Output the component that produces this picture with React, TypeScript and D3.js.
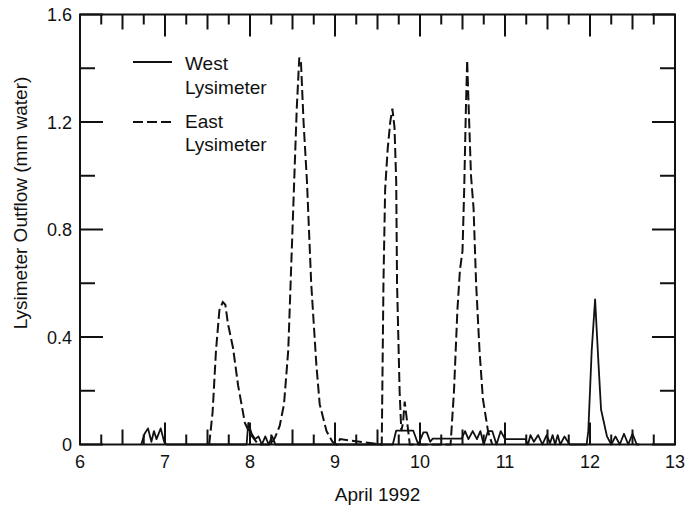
import React from "react";
import * as d3 from "d3";

const xTicks = [6, 7, 8, 9, 10, 11, 12, 13];
const yTicks = [0, 0.4, 0.8, 1.2, 1.6];
const yTickLabels = ["0", "0.4", "0.8", "1.2", "1.6"];

// East Lysimeter (dashed)
const eastDay = [
  7.52, 7.56, 7.6, 7.64, 7.68, 7.71, 7.74, 7.8, 7.86, 7.94, 8.0, 8.05, 8.1,
  8.25, 8.3, 8.35, 8.4, 8.45, 8.5, 8.55, 8.58, 8.6, 8.63, 8.67, 8.72, 8.78, 8.82, 8.9, 8.97, 9.02, 9.06,
  9.55, 9.57, 9.59, 9.62, 9.65, 9.675, 9.7, 9.72, 9.73, 9.76, 9.78, 9.8, 9.82, 9.85, 9.88,
  10.36, 10.4, 10.44, 10.47, 10.5, 10.52, 10.54, 10.555, 10.57, 10.6, 10.63, 10.66, 10.7, 10.74, 10.8, 10.85,
];
const eastVal = [
  0.0, 0.12, 0.35, 0.5, 0.53, 0.52, 0.45, 0.36, 0.22, 0.08, 0.04, 0.02, 0.0,
  0.0, 0.03, 0.07, 0.15, 0.35, 0.8, 1.25, 1.44, 1.42, 1.2, 0.98, 0.6, 0.3, 0.15, 0.05, 0.01, 0.0, 0.02,
  0.0, 0.6, 0.95, 1.1, 1.2, 1.25, 1.18, 0.98, 0.6, 0.2, 0.05, 0.08, 0.16, 0.08, 0.0,
  0.0, 0.2, 0.5, 0.65, 0.72, 0.95, 1.25, 1.43, 1.28, 1.0, 0.88, 0.6, 0.35, 0.17, 0.05, 0.0,
];

// West Lysimeter (solid)
const westDay = [
  6.72, 6.76, 6.8, 6.84, 6.87, 6.9, 6.95, 6.99, 7.02,
  7.96, 7.98, 8.02, 8.06, 8.1, 8.14, 8.18, 8.22, 8.26, 8.3,
  9.68, 9.72, 9.92, 9.98, 10.04, 10.08, 10.12, 10.15, 10.49, 10.53, 10.57, 10.62, 10.67, 10.71, 10.75, 10.8, 10.85, 10.9, 10.95, 11.0,
  11.24, 11.27, 11.3, 11.34, 11.39, 11.44, 11.49, 11.53, 11.56, 11.59, 11.62, 11.65, 11.7, 11.76, 11.82,
  11.96, 11.98, 12.02, 12.06, 12.1, 12.13, 12.2, 12.25, 12.3, 12.35, 12.4, 12.45, 12.5, 12.55, 12.58,
];
const westVal = [
  0.0, 0.04, 0.06, 0.01, 0.05, 0.02, 0.06, 0.01, 0.0,
  0.0, 0.08, 0.04, 0.02, 0.03, 0.0, 0.03, 0.0, 0.03, 0.0,
  0.0, 0.052, 0.052, 0.0, 0.045, 0.045, 0.01, 0.022, 0.022, 0.05, 0.02, 0.05, 0.02, 0.05, 0.0, 0.05, 0.05, 0.0, 0.05, 0.02,
  0.02, 0.0, 0.035, 0.01, 0.035, 0.0, 0.035, 0.005, 0.035, 0.0, 0.035, 0.0, 0.03, 0.0, 0.0,
  0.0, 0.05, 0.35, 0.54, 0.3, 0.13, 0.03, 0.0, 0.03, 0.0, 0.04, 0.0, 0.04, 0.0, 0.0,
];

const W = 694;
const H = 512;
const left = 80, right = 675, top = 14.5, bottom = 444.5;

export default function App() {
  const x = d3.scaleLinear().domain([6, 13]).range([left, right]);
  const y = d3.scaleLinear().domain([0, 1.6]).range([bottom, top]);
  const line = d3
    .line<[number, number]>()
    .x((d) => x(d[0]))
    .y((d) => y(d[1]));
  const east: [number, number][] = eastDay.map((d, i) => [d, eastVal[i]]);
  const west: [number, number][] = westDay.map((d, i) => [d, westVal[i]]);

  const xMinor = d3.range(6, 13.001, 0.25);
  const yMinor = d3.range(0, 1.601, 0.2);
  const font = "'Liberation Sans', Arial, Helvetica, sans-serif";

  return (
    <svg
      width={W}
      height={H}
      style={{ position: "absolute", left: 0, top: 0, background: "#fff" }}
      fontFamily={font}
    >
      <rect x={0} y={0} width={W} height={H} fill="#fff" />
      {/* x ticks */}
      {xMinor.map((v, i) => {
        const r = Math.round(v * 4) % 4;
        const len = r === 0 ? 22 : r === 2 ? 15 : 10;
        return (
          <g key={"xt" + i} stroke="#111" strokeWidth={2}>
            <line x1={x(v)} x2={x(v)} y1={bottom} y2={bottom - len} />
            <line x1={x(v)} x2={x(v)} y1={top} y2={top + len} />
          </g>
        );
      })}
      {yMinor.map((v, i) => {
        const major = Math.round(v * 10) % 4 === 0;
        const len = major ? 23 : 15;
        return (
          <g key={"yt" + i} stroke="#111" strokeWidth={2}>
            <line x1={left} x2={left + len} y1={y(v)} y2={y(v)} />
            <line x1={right} x2={right - len} y1={y(v)} y2={y(v)} />
          </g>
        );
      })}
      <rect
        x={left}
        y={top}
        width={right - left}
        height={bottom - top}
        fill="none"
        stroke="#111"
        strokeWidth={2}
      />
      {xTicks.map((v) => (
        <text key={"xl" + v} x={x(v)} y={468} textAnchor="middle" fontSize={18} fill="#111">
          {v}
        </text>
      ))}
      {yTicks.map((v, i) => (
        <text key={"yl" + v} x={72} y={y(v) + 6.5} textAnchor="end" fontSize={18} fill="#111">
          {yTickLabels[i]}
        </text>
      ))}
      <text x={(left + right) / 2} y={501} textAnchor="middle" fontSize={19} fill="#111">
        April 1992
      </text>
      <text
        transform={`translate(27,203) rotate(-90)`}
        textAnchor="middle"
        fontSize={19}
        fill="#111"
      >
        Lysimeter Outflow (mm water)
      </text>
      {/* data */}
      <path d={line(west) || ""} fill="none" stroke="#111" strokeWidth={1.8} strokeLinejoin="round" />
      <path
        d={line(east) || ""}
        fill="none"
        stroke="#111"
        strokeWidth={2}
        strokeDasharray="10,4"
      />
      {/* legend */}
      <line x1={133} x2={172} y1={62} y2={62} stroke="#111" strokeWidth={1.8} />
      <text x={185} y={70} fontSize={19} fill="#111">West</text>
      <text x={185} y={94} fontSize={19} fill="#111">Lysimeter</text>
      <line x1={133} x2={172} y1={122} y2={122} stroke="#111" strokeWidth={2} strokeDasharray="10,4" />
      <text x={185} y={128} fontSize={19} fill="#111">East</text>
      <text x={185} y={151} fontSize={19} fill="#111">Lysimeter</text>
    </svg>
  );
}
